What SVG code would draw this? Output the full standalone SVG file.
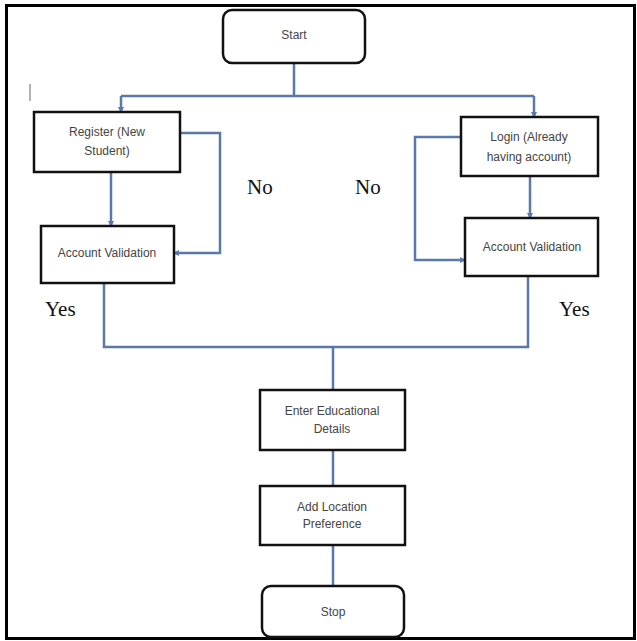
<svg xmlns="http://www.w3.org/2000/svg" width="637" height="641" viewBox="0 0 637 641">
<style>
.box{fill:#fff;stroke:#111;stroke-width:2.5}
.t{font-family:"Liberation Sans",Arial,sans-serif;font-size:12px;fill:#444;text-anchor:middle}
.lbl{font-family:"Liberation Serif","Times New Roman",serif;font-size:21px;fill:#111}
.c{fill:none;stroke:#5a78a8;stroke-width:2.5}
</style>
<defs>
<marker id="ah" markerWidth="6" markerHeight="6" refX="5" refY="3" orient="auto" markerUnits="userSpaceOnUse">
<path d="M0,0 L6,3 L0,6 z" fill="#5a78a8"/>
</marker>
</defs>
<rect x="0" y="0" width="637" height="641" fill="#fff"/>
<rect x="6.5" y="5.5" width="628" height="633" fill="none" stroke="#000" stroke-width="3"/>
<line x1="30" y1="84" x2="30" y2="101" stroke="#999" stroke-width="1.5"/>
<g id="connectors">
<path class="c" d="M294,63 V96"/>
<path class="c" d="M121,96 H534" />
<path class="c" d="M121,96 V112" marker-end="url(#ah)"/>
<path class="c" d="M534,96 V117" marker-end="url(#ah)"/>
<path class="c" d="M111,172 V226" marker-end="url(#ah)"/>
<path class="c" d="M530,176 V218" marker-end="url(#ah)"/>
<path class="c" d="M180,133 H220 V253 H174" marker-end="url(#ah)"/>
<path class="c" d="M461,137 H415 V260 H465" marker-end="url(#ah)"/>
<path class="c" d="M104,283 V347 H528 V276"/>
<path class="c" d="M333,347 V390"/>
<path class="c" d="M333,450 V486"/>
<path class="c" d="M333,545 V586"/>
</g>
<g id="start"><rect class="box" x="223" y="10" width="142" height="53" rx="9"/><text class="t" x="294" y="39">Start</text></g>
<g id="register"><rect class="box" x="34" y="112" width="146" height="60"/><text class="t" x="107" y="136">Register (New</text><text class="t" x="107" y="155">Student)</text></g>
<g id="login"><rect class="box" x="461" y="117" width="137" height="59"/><text class="t" x="529" y="141">Login (Already</text><text class="t" x="529" y="161">having account)</text></g>
<g id="validation-left"><rect class="box" x="41" y="226" width="133" height="57"/><text class="t" x="107" y="257">Account Validation</text></g>
<g id="validation-right"><rect class="box" x="465" y="218" width="133" height="58"/><text class="t" x="532" y="251">Account Validation</text></g>
<g id="enter-details"><rect class="box" x="260" y="390" width="145" height="60"/><text class="t" x="332" y="415">Enter Educational</text><text class="t" x="332" y="433">Details</text></g>
<g id="location"><rect class="box" x="260" y="486" width="145" height="59"/><text class="t" x="332" y="511">Add Location</text><text class="t" x="332" y="528">Preference</text></g>
<g id="stop"><rect class="box" x="262" y="586" width="142" height="51" rx="9"/><text class="t" x="333" y="616">Stop</text></g>
<g id="labels">
<text class="lbl" x="247" y="194">No</text>
<text class="lbl" x="355" y="194">No</text>
<text class="lbl" x="45" y="316">Yes</text>
<text class="lbl" x="559" y="316">Yes</text>
</g>
</svg>
